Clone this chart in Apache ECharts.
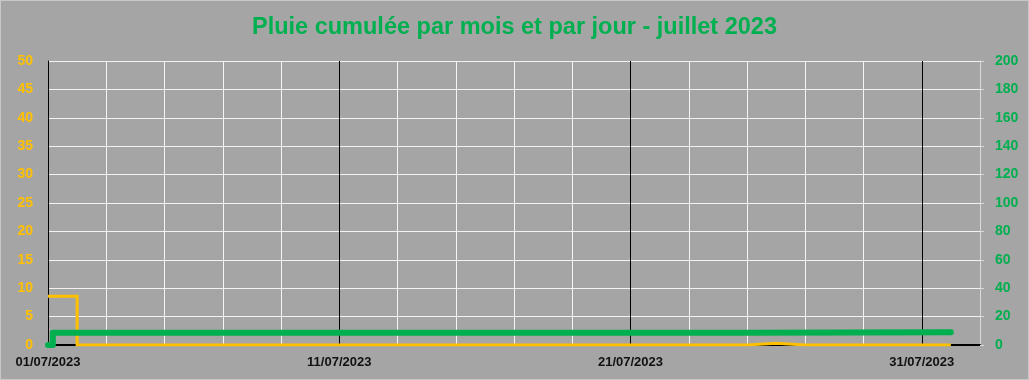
<!DOCTYPE html>
<html><head><meta charset="utf-8">
<script src="https://cdn.jsdelivr.net/npm/echarts@6/dist/echarts.min.js"></script>
<style>html,body{margin:0;padding:0;background:#A5A5A5}#c{width:1029px;height:380px;box-sizing:border-box;border:1px solid #C8C8C8}</style>
</head><body><div id="c"></div>
<script>
// Daily dates (start of each day) and daily rain (mm) – left axis
const dayLabels = ['01/07/2023','02/07/2023','03/07/2023','04/07/2023','05/07/2023','06/07/2023','07/07/2023','08/07/2023','09/07/2023','10/07/2023','11/07/2023','12/07/2023','13/07/2023','14/07/2023','15/07/2023','16/07/2023','17/07/2023','18/07/2023','19/07/2023','20/07/2023','21/07/2023','22/07/2023','23/07/2023','24/07/2023','25/07/2023','26/07/2023','27/07/2023','28/07/2023','29/07/2023','30/07/2023','31/07/2023','01/08/2023'];
const dailyRain = [8.6,0,0,0,0,0,0,0,0,0,0,0,0,0,0,0,0,0,0,0,0,0,0,0,0.3,0,0,0,0,0,0,0];
// Cumulative rain (mm) – right axis
const cumulTimes = ['01/07/2023 00:00','01/07/2023 04:00','25/07/2023 00:00','01/08/2023 00:00'];
const cumulRain = [0, 8.6, 8.9, 8.9];
// Axis ranges
const leftMax = 50, leftStep = 5, rightMax = 200, rightStep = 20;
const xDays = 32;

function toDay(s){
  const [d, t] = s.split(' ');
  const [dd, mm, yy] = d.split('/').map(Number);
  let h = 0;
  if (t) h = Number(t.split(':')[0]);
  const ms = Date.UTC(yy, mm-1, dd, h) - Date.UTC(2023, 6, 1);
  return ms / 86400000;
}
function dayToLabel(v){
  const dt = new Date(Date.UTC(2023,6,1) + v*86400000);
  const p = n => String(n).padStart(2,'0');
  return p(dt.getUTCDate()) + '/' + p(dt.getUTCMonth()+1) + '/' + dt.getUTCFullYear();
}
const yellowData = dayLabels.map((d,i)=>[toDay(d), dailyRain[i]]);
const greenData = cumulTimes.map((d,i)=>[toDay(d), cumulRain[i]]);

const chart = echarts.init(document.getElementById('c'));
chart.setOption({
  animation:false,
  backgroundColor:'#A5A5A5',
  title:{text:'Pluie cumulée par mois et par jour - juillet 2023', left:'center', top:10,
    textStyle:{color:'#00B050', fontFamily:'Liberation Sans', fontWeight:'bold', fontSize:23.5}},
  grid:{left:47, right:48, top:60, bottom:34, containLabel:false},
  xAxis:{type:'value', min:0, max:xDays, interval:2,
    axisLine:{show:true, onZero:false, lineStyle:{color:'#000', width:2}},
    axisTick:{show:false},
    splitLine:{show:true, lineStyle:{color:['#000','#F5F5F5','#F5F5F5','#F5F5F5','#F5F5F5'], width:1}},
    axisLabel:{margin:11, color:'#111', fontFamily:'Liberation Sans', fontWeight:'bold', fontSize:13,
      formatter:v => (v%10===0 && v<=30) ? dayToLabel(v) : ''}},
  yAxis:[
    {type:'value', min:0, max:leftMax, interval:leftStep, position:'left',
      axisLine:{show:true, lineStyle:{color:'#000'}}, axisTick:{show:false},
      splitLine:{show:true, lineStyle:{color:'#F2F2F2'}},
      axisLabel:{margin:15, color:'#FFC000', fontFamily:'Liberation Sans', fontWeight:'bold', fontSize:14}},
    {type:'value', min:0, max:rightMax, interval:rightStep, position:'right',
      axisLine:{show:true, lineStyle:{color:'#D9D9D9'}},
      axisTick:{show:true, inside:false, length:4, lineStyle:{color:'#D9D9D9'}},
      splitLine:{show:false},
      axisLabel:{margin:15, color:'#00B050', fontFamily:'Liberation Sans', fontWeight:'bold', fontSize:14}}
  ],
  series:[
    {type:'line', name:'jour', yAxisIndex:0, step:'end', data:yellowData, showSymbol:false, symbol:'none',
      lineStyle:{color:'#FFC000', width:3, join:'miter'}, z:3},
    {type:'line', name:'cumul', yAxisIndex:1, step:'end', data:greenData, showSymbol:false, symbol:'none',
      lineStyle:{color:'#00B050', width:6, cap:'round', join:'round'}, z:4}
  ]
});
</script></body></html>
